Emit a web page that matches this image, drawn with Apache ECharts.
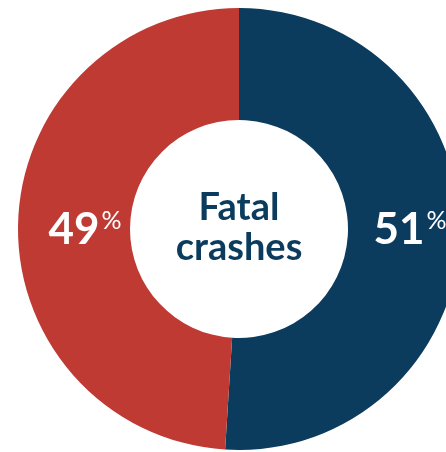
<!DOCTYPE html>
<html>
<head>
<meta charset="utf-8">
<script src="https://cdn.jsdelivr.net/npm/echarts@6/dist/echarts.min.js"></script>
<style>html,body{margin:0;padding:0;background:#fff;}#c{width:446px;height:452px;}</style>
</head>
<body>
<div id="c"></div>
<script>
var categories = ['Share B', 'Share A'];
var values = [51, 49];
var colors = ['#0B3B5D', '#BF3A33'];
var centerTitle = 'Fatal\ncrashes';

var CX = 239, CY = 229;
var labelOffsets = [171, -154];

var chart = echarts.init(document.getElementById('c'), null, {renderer: 'canvas'});
chart.setOption({
  animation: false,
  backgroundColor: '#ffffff',
  graphic: [{
    type: 'text',
    x: CX, y: CY - 1,
    style: {
      text: centerTitle,
      fill: '#0B3B5D',
      font: 'bold 38px Lato',
      lineHeight: 40,
      align: 'center',
      verticalAlign: 'middle'
    },
    z: 10
  }],
  series: [{
    type: 'pie',
    center: [CX, CY],
    radius: [109, 221],
    startAngle: 90,
    clockwise: true,
    silent: true,
    labelLine: {show: false},
    label: {
      show: true,
      position: 'inside',
      formatter: function (p) { return '{a|' + p.value + '}{b|%}'; },
      rich: {
        a: {color: '#fff', fontFamily: 'Lato', fontWeight: 'bold', fontSize: 44, verticalAlign: 'bottom', lineHeight: 44},
        b: {color: '#fff', fontFamily: 'Lato', fontWeight: 'normal', fontSize: 25, verticalAlign: 'top', lineHeight: 28, padding: [0, 0, 0, 2]}
      }
    },
    labelLayout: function (p) {
      var r = p.labelRect;
      return {
        dx: CX + labelOffsets[p.dataIndex] - (r.x + r.width / 2),
        dy: CY + 1 - (r.y + r.height / 2)
      };
    },
    data: categories.map(function (c, i) {
      return {name: c, value: values[i], itemStyle: {color: colors[i]}};
    })
  }]
});
</script>
</body>
</html>
